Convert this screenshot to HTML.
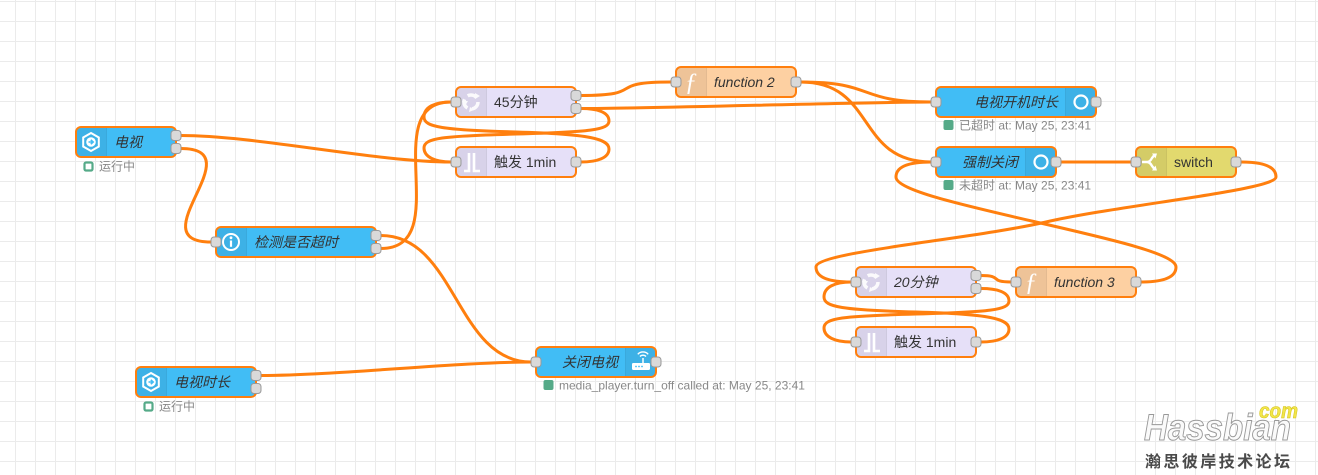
<!DOCTYPE html>
<html><head><meta charset="utf-8">
<style>
html,body{margin:0;padding:0;background:#fff;}
svg{display:block;}
.lbl{font-family:"Liberation Sans","Noto Sans CJK SC",sans-serif;font-size:14px;fill:#333;}
.it{font-style:italic;}
.st{font-family:"Liberation Sans","Noto Sans CJK SC",sans-serif;font-size:12px;fill:#888;}
.w{fill:none;stroke:#ff7f0e;stroke-width:3;}
.bd{fill:none;stroke:#ff7f0e;stroke-width:2;}
.pt{fill:#d9d9d9;stroke:#999;stroke-width:1;}
.sh{fill:#000;fill-opacity:.06;}
.sep{stroke:#000;stroke-opacity:.1;stroke-width:1;}
.ic{fill:none;stroke:#fff;stroke-width:2;}
</style></head>
<body>
<svg width="1318" height="475" viewBox="0 0 1318 475" xmlns="http://www.w3.org/2000/svg">
<defs>
<pattern id="grid" x="15" y="1" width="20" height="20" patternUnits="userSpaceOnUse">
<path d="M0.5 0V20M0 0.5H20" stroke="#ebebeb" stroke-width="1" fill="none"/>
</pattern>
</defs>
<rect width="1318" height="475" fill="#fff"/>
<rect width="1318" height="475" fill="url(#grid)"/>

<!-- wires -->
<path class="w" d="M181 135.5 C256 135.5 376 162 451 162"/>
<path class="w" d="M181 148.5 C254.7 148.5 137.3 242 211 242"/>
<path class="w" d="M381 235.5 C456 235.5 456 362 531 362"/>
<path class="w" d="M381 248.5 C456 248.5 376 102 451 102"/>
<path class="w" d="M581 95.5 C649.25 95.5 602.75 82 671 82"/>
<path class="w" d="M581 108.5 C656 108.5 856 102 931 102"/>
<!-- 45 loops -->
<path class="w" d="M581 108.5 C597 108.5 609 112 609 121 C609 130 590 132 516 134 C442 136 424 138 424 148 C424 157 435 162 451 162"/>
<path class="w" d="M581 162 C597 162 609 158 609 149 C609 139 590 134 516 132 C442 130 424 127 424 117 C424 107 435 102 451 102"/>
<path class="w" d="M801 82 C876 82 856 102 931 102"/>
<path class="w" d="M801 82 C876 82 856 162 931 162"/>
<path class="w" d="M1061 162 L1131 162"/>
<!-- switch -> 20分钟 -->
<path class="w" d="M1241 162 C1262 162 1276 166 1276 177 C1276 190 1120 205 1046 222 C972 239 816 252 816 267 C816 278 830 282 851 282"/>
<path class="w" d="M981 275.5 C1004 275.5 988 282 1011 282"/>
<!-- 20 loops -->
<path class="w" d="M981 288.5 C997 288.5 1009 292 1009 301 C1009 310 990 312 916 314 C842 316 824 318 824 328 C824 337 835 342 851 342"/>
<path class="w" d="M981 342 C997 342 1009 338 1009 329 C1009 319 990 314 916 312 C842 310 824 307 824 297 C824 287 835 282 851 282"/>
<!-- function3 -> 强制关闭 -->
<path class="w" d="M1141 282 C1162 282 1176 278 1176 267 C1176 254 1110 239 1036 222 C962 205 896 190 896 177 C896 166 910 162 931 162"/>
<path class="w" d="M261 375.5 C336 375.5 456 362 531 362"/>

<!-- 1 电视 -->
<g transform="translate(76,127)">
<rect width="100" height="30" rx="5" fill="#41bdf5"/>
<path class="sh" d="M5 0H30V30H5A5 5 0 0 1 0 25V5A5 5 0 0 1 5 0Z"/>
<line class="sep" x1="30.5" y1="1" x2="30.5" y2="29"/>
<rect class="bd" width="100" height="30" rx="5"/>
<polygon class="ic" points="15,6 22.8,10.5 22.8,19.5 15,24 7.2,19.5 7.2,10.5"/>
<circle cx="15" cy="15" r="4.8" fill="#fff"/>
<path d="M12.5 15H16.5M14.8 12.8L17.2 15L14.8 17.2" stroke="#41bdf5" stroke-width="1.6" fill="none"/>
<text class="lbl it" x="38" y="20">电视</text>
<rect class="pt" x="95" y="3.5" width="10" height="10" rx="3"/>
<rect class="pt" x="95" y="16.5" width="10" height="10" rx="3"/>
<rect x="8.5" y="35.5" width="8" height="8" rx="1.5" fill="#fff" stroke="#5a8" stroke-width="2.2"/>
<text class="st" x="23" y="43.5">运行中</text>
</g>

<!-- 2 检测是否超时 -->
<g transform="translate(216,227)">
<rect width="160" height="30" rx="5" fill="#41bdf5"/>
<path class="sh" d="M5 0H30V30H5A5 5 0 0 1 0 25V5A5 5 0 0 1 5 0Z"/>
<line class="sep" x1="30.5" y1="1" x2="30.5" y2="29"/>
<rect class="bd" width="160" height="30" rx="5"/>
<circle class="ic" cx="15" cy="15" r="8"/>
<circle cx="15" cy="10.8" r="1.4" fill="#fff"/>
<line x1="15" y1="13.5" x2="15" y2="19.8" stroke="#fff" stroke-width="2.2"/>
<text class="lbl it" x="38" y="20">检测是否超时</text>
<rect class="pt" x="-5" y="10" width="10" height="10" rx="3"/>
<rect class="pt" x="155" y="3.5" width="10" height="10" rx="3"/>
<rect class="pt" x="155" y="16.5" width="10" height="10" rx="3"/>
</g>

<!-- 3 45分钟 -->
<g transform="translate(456,87)">
<rect width="120" height="30" rx="5" fill="#e6e0f8"/>
<path class="sh" d="M5 0H30V30H5A5 5 0 0 1 0 25V5A5 5 0 0 1 5 0Z"/>
<line class="sep" x1="30.5" y1="1" x2="30.5" y2="29"/>
<rect class="bd" width="120" height="30" rx="5"/>
<g opacity=".9">
<circle cx="15" cy="15" r="7" fill="none" stroke="#fff" stroke-width="3.5" stroke-dasharray="10 4.66"/>
<polygon points="19,6 24,9 19,12" fill="#fff"/>
<polygon points="6,14 9,19 12,14" fill="#fff"/>
<polygon points="18,23 13,25 14,20" fill="#fff"/>
</g>
<text class="lbl" x="38" y="20">45分钟</text>
<rect class="pt" x="-5" y="10" width="10" height="10" rx="3"/>
<rect class="pt" x="115" y="3.5" width="10" height="10" rx="3"/>
<rect class="pt" x="115" y="16.5" width="10" height="10" rx="3"/>
</g>

<!-- 4 触发 1min -->
<g transform="translate(456,147)">
<rect width="120" height="30" rx="5" fill="#e6e0f8"/>
<path class="sh" d="M5 0H30V30H5A5 5 0 0 1 0 25V5A5 5 0 0 1 5 0Z"/>
<line class="sep" x1="30.5" y1="1" x2="30.5" y2="29"/>
<rect class="bd" width="120" height="30" rx="5"/>
<path d="M8 24H13V6M18 6V24H24" stroke="#fff" stroke-width="2.6" fill="none"/>
<text class="lbl" x="38" y="20">触发 1min</text>
<rect class="pt" x="-5" y="10" width="10" height="10" rx="3"/>
<rect class="pt" x="115" y="10" width="10" height="10" rx="3"/>
</g>

<!-- 5 function 2 -->
<g transform="translate(676,67)">
<rect width="120" height="30" rx="5" fill="#fdd0a2"/>
<path class="sh" d="M5 0H30V30H5A5 5 0 0 1 0 25V5A5 5 0 0 1 5 0Z"/>
<line class="sep" x1="30.5" y1="1" x2="30.5" y2="29"/>
<rect class="bd" width="120" height="30" rx="5"/>
<text x="15" y="23" text-anchor="middle" font-family="Liberation Serif,serif" font-style="italic" font-size="25" fill="#fff">ƒ</text>
<text class="lbl it" x="38" y="20">function 2</text>
<rect class="pt" x="-5" y="10" width="10" height="10" rx="3"/>
<rect class="pt" x="115" y="10" width="10" height="10" rx="3"/>
</g>

<!-- 6 电视开机时长 -->
<g transform="translate(936,87)">
<rect width="160" height="30" rx="5" fill="#41bdf5"/>
<path class="sh" d="M130 0H155A5 5 0 0 1 160 5V25A5 5 0 0 1 155 30H130Z"/>
<line class="sep" x1="129.5" y1="1" x2="129.5" y2="29"/>
<rect class="bd" width="160" height="30" rx="5"/>
<circle cx="145" cy="15" r="6.5" fill="none" stroke="#fff" stroke-width="2.2"/>
<text class="lbl it" x="122" y="20" text-anchor="end">电视开机时长</text>
<rect class="pt" x="-5" y="10" width="10" height="10" rx="3"/>
<rect class="pt" x="155" y="10" width="10" height="10" rx="3"/>
<rect x="7.5" y="33" width="10" height="10" rx="2" fill="#5a8"/>
<text class="st" x="23" y="42.5">已超时 at: May 25, 23:41</text>
</g>

<!-- 7 强制关闭 -->
<g transform="translate(936,147)">
<rect width="120" height="30" rx="5" fill="#41bdf5"/>
<path class="sh" d="M90 0H115A5 5 0 0 1 120 5V25A5 5 0 0 1 115 30H90Z"/>
<line class="sep" x1="89.5" y1="1" x2="89.5" y2="29"/>
<rect class="bd" width="120" height="30" rx="5"/>
<circle cx="105" cy="15" r="6.5" fill="none" stroke="#fff" stroke-width="2.2"/>
<text class="lbl it" x="82" y="20" text-anchor="end">强制关闭</text>
<rect class="pt" x="-5" y="10" width="10" height="10" rx="3"/>
<rect class="pt" x="115" y="10" width="10" height="10" rx="3"/>
<rect x="7.5" y="33" width="10" height="10" rx="2" fill="#5a8"/>
<text class="st" x="23" y="42.5">未超时 at: May 25, 23:41</text>
</g>

<!-- 8 switch -->
<g transform="translate(1136,147)">
<rect width="100" height="30" rx="5" fill="#e2d96e"/>
<path class="sh" d="M5 0H30V30H5A5 5 0 0 1 0 25V5A5 5 0 0 1 5 0Z"/>
<line class="sep" x1="30.5" y1="1" x2="30.5" y2="29"/>
<rect class="bd" width="100" height="30" rx="5"/>
<path d="M6 15H11Q14 15 16 11L18 8.5M11 15Q14 15 16 19L18 21.5" stroke="#fff" stroke-width="2.4" fill="none"/>
<path d="M16 6.5L21 6.5L19.5 11.5Z M16 23.5L21 23.5L19.5 18.5Z" fill="#fff"/>
<text class="lbl" x="38" y="20">switch</text>
<rect class="pt" x="-5" y="10" width="10" height="10" rx="3"/>
<rect class="pt" x="95" y="10" width="10" height="10" rx="3"/>
</g>

<!-- 9 20分钟 -->
<g transform="translate(856,267)">
<rect width="120" height="30" rx="5" fill="#e6e0f8"/>
<path class="sh" d="M5 0H30V30H5A5 5 0 0 1 0 25V5A5 5 0 0 1 5 0Z"/>
<line class="sep" x1="30.5" y1="1" x2="30.5" y2="29"/>
<rect class="bd" width="120" height="30" rx="5"/>
<g opacity=".9">
<circle cx="15" cy="15" r="7" fill="none" stroke="#fff" stroke-width="3.5" stroke-dasharray="10 4.66"/>
<polygon points="19,6 24,9 19,12" fill="#fff"/>
<polygon points="6,14 9,19 12,14" fill="#fff"/>
<polygon points="18,23 13,25 14,20" fill="#fff"/>
</g>
<text class="lbl it" x="38" y="20">20分钟</text>
<rect class="pt" x="-5" y="10" width="10" height="10" rx="3"/>
<rect class="pt" x="115" y="3.5" width="10" height="10" rx="3"/>
<rect class="pt" x="115" y="16.5" width="10" height="10" rx="3"/>
</g>

<!-- 10 function 3 -->
<g transform="translate(1016,267)">
<rect width="120" height="30" rx="5" fill="#fdd0a2"/>
<path class="sh" d="M5 0H30V30H5A5 5 0 0 1 0 25V5A5 5 0 0 1 5 0Z"/>
<line class="sep" x1="30.5" y1="1" x2="30.5" y2="29"/>
<rect class="bd" width="120" height="30" rx="5"/>
<text x="15" y="23" text-anchor="middle" font-family="Liberation Serif,serif" font-style="italic" font-size="25" fill="#fff">ƒ</text>
<text class="lbl it" x="38" y="20">function 3</text>
<rect class="pt" x="-5" y="10" width="10" height="10" rx="3"/>
<rect class="pt" x="115" y="10" width="10" height="10" rx="3"/>
</g>

<!-- 11 触发 1min (2) -->
<g transform="translate(856,327)">
<rect width="120" height="30" rx="5" fill="#e6e0f8"/>
<path class="sh" d="M5 0H30V30H5A5 5 0 0 1 0 25V5A5 5 0 0 1 5 0Z"/>
<line class="sep" x1="30.5" y1="1" x2="30.5" y2="29"/>
<rect class="bd" width="120" height="30" rx="5"/>
<path d="M8 24H13V6M18 6V24H24" stroke="#fff" stroke-width="2.6" fill="none"/>
<text class="lbl" x="38" y="20">触发 1min</text>
<rect class="pt" x="-5" y="10" width="10" height="10" rx="3"/>
<rect class="pt" x="115" y="10" width="10" height="10" rx="3"/>
</g>

<!-- 12 电视时长 -->
<g transform="translate(136,367)">
<rect width="120" height="30" rx="5" fill="#41bdf5"/>
<path class="sh" d="M5 0H30V30H5A5 5 0 0 1 0 25V5A5 5 0 0 1 5 0Z"/>
<line class="sep" x1="30.5" y1="1" x2="30.5" y2="29"/>
<rect class="bd" width="120" height="30" rx="5"/>
<polygon class="ic" points="15,6 22.8,10.5 22.8,19.5 15,24 7.2,19.5 7.2,10.5"/>
<circle cx="15" cy="15" r="4.8" fill="#fff"/>
<path d="M12.5 15H16.5M14.8 12.8L17.2 15L14.8 17.2" stroke="#41bdf5" stroke-width="1.6" fill="none"/>
<text class="lbl it" x="38" y="20">电视时长</text>
<rect class="pt" x="115" y="3.5" width="10" height="10" rx="3"/>
<rect class="pt" x="115" y="16.5" width="10" height="10" rx="3"/>
<rect x="8.5" y="35.5" width="8" height="8" rx="1.5" fill="#fff" stroke="#5a8" stroke-width="2.2"/>
<text class="st" x="23" y="43.5">运行中</text>
</g>

<!-- 13 关闭电视 -->
<g transform="translate(536,347)">
<rect width="120" height="30" rx="5" fill="#41bdf5"/>
<path class="sh" d="M90 0H115A5 5 0 0 1 120 5V25A5 5 0 0 1 115 30H90Z"/>
<line class="sep" x1="89.5" y1="1" x2="89.5" y2="29"/>
<rect class="bd" width="120" height="30" rx="5"/>
<rect x="96" y="16" width="18" height="7" rx="1.2" fill="#fff"/>
<circle cx="100" cy="19.5" r="0.9" fill="#41bdf5"/>
<circle cx="103" cy="19.5" r="0.9" fill="#41bdf5"/>
<circle cx="106" cy="19.5" r="0.9" fill="#41bdf5"/>
<line x1="107" y1="16" x2="107" y2="11" stroke="#fff" stroke-width="1.5"/>
<path d="M104 9.5A4 4 0 0 1 110 9.5M101.8 7.3A7 7 0 0 1 112.2 7.3" stroke="#fff" stroke-width="1.4" fill="none"/>
<text class="lbl it" x="82" y="20" text-anchor="end">关闭电视</text>
<rect class="pt" x="-5" y="10" width="10" height="10" rx="3"/>
<rect class="pt" x="115" y="10" width="10" height="10" rx="3"/>
<rect x="7.5" y="33" width="10" height="10" rx="2" fill="#5a8"/>
<text class="st" x="23" y="42.5">media_player.turn_off called at: May 25, 23:41</text>
</g>

<!-- watermark -->
<text x="1144" y="440" font-family="Liberation Sans,sans-serif" font-weight="bold" font-style="italic" font-size="37" fill="#fafafa" stroke="#999" stroke-width="1" textLength="147" lengthAdjust="spacingAndGlyphs">Hassbian</text>
<text x="1259" y="418" font-family="Liberation Sans,sans-serif" font-weight="bold" font-style="italic" font-size="21" fill="#f2e64a" stroke="#d6c520" stroke-width="0.6" textLength="39" lengthAdjust="spacingAndGlyphs">com</text>
<text x="1145" y="467" font-family="Noto Sans CJK SC,WenQuanYi Zen Hei,sans-serif" font-weight="bold" font-size="16" fill="#4a4a4a" textLength="145" lengthAdjust="spacing">瀚思彼岸技术论坛</text>
</svg>
</body></html>
